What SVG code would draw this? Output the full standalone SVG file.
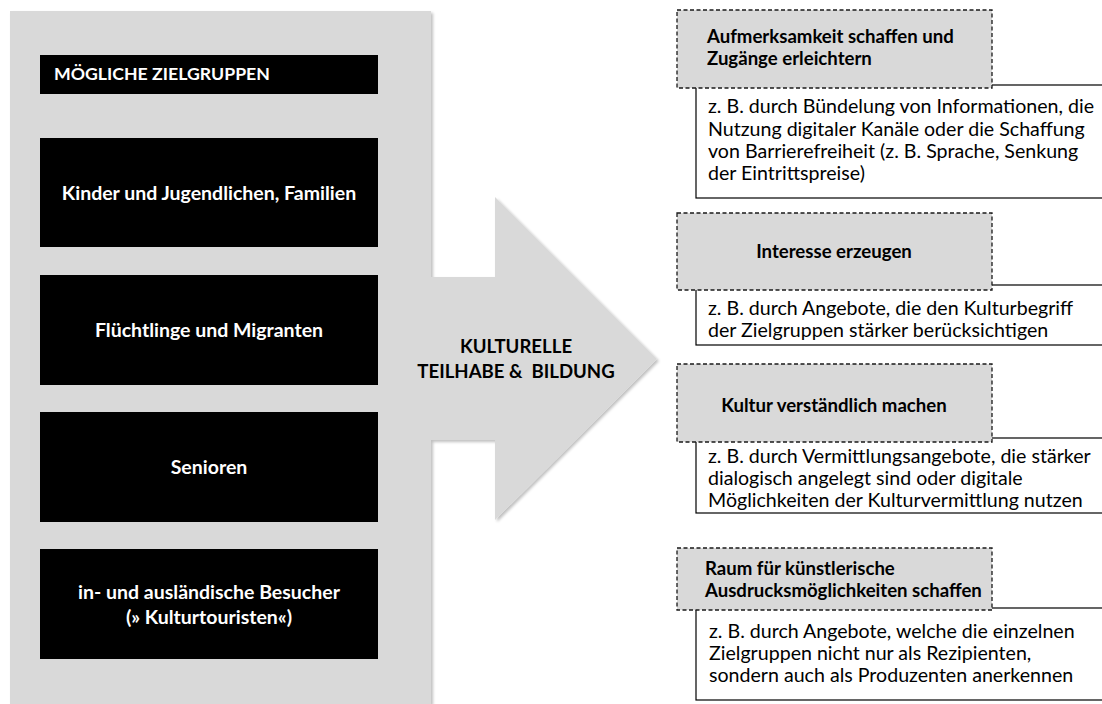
<svg xmlns="http://www.w3.org/2000/svg" width="1102" height="704" viewBox="0 0 1102 704">
<defs>
<style>
.bg{fill:#d9d9d9}
.blk{fill:#000}
.wt{fill:#fff;font-family:Lato,"Liberation Sans",sans-serif;font-weight:bold;font-size:19.5px}
.cap{font-size:17.7px}
.hd{fill:#d9d9d9;stroke:#1a1a1a;stroke-width:1.3;stroke-dasharray:4 2.5}
.bx{fill:#fff;stroke:#000;stroke-width:1.2}
.ht{fill:#000;font-family:Lato,"Liberation Sans",sans-serif;font-weight:bold;font-size:18.6px}
.bt{fill:#000;font-family:Lato,"Liberation Sans",sans-serif;font-size:19.6px}
</style>
<filter id="sh" x="-5%" y="-5%" width="110%" height="110%">
<feGaussianBlur in="SourceAlpha" stdDeviation="1.5"/>
<feOffset dx="1.5" dy="1.5"/>
<feComponentTransfer><feFuncA type="linear" slope="0.25"/></feComponentTransfer>
<feMerge><feMergeNode/><feMergeNode in="SourceGraphic"/></feMerge>
</filter>
</defs>
<g id="panel">
<path class="bg" filter="url(#sh)" d="M10 11 H431 V277 H495 V197 L657 359 L495 520 V440 H431 V704 H10 Z"/>
<text class="ht cap" text-anchor="middle" x="516" y="353">KULTURELLE</text>
<text class="ht cap" text-anchor="middle" x="516" y="378" xml:space="preserve">TEILHABE &amp;  BILDUNG</text>
</g>
<g id="zielgruppen">
<rect class="blk" x="40" y="55" width="338" height="39"/>
<text class="wt cap" x="54" y="80">MÖGLICHE ZIELGRUPPEN</text>
</g>
<g id="kinder">
<rect class="blk" x="40" y="138" width="338" height="109"/>
<text class="wt" text-anchor="middle" x="209" y="200">Kinder und Jugendlichen, Familien</text>
</g>
<g id="fluechtlinge">
<rect class="blk" x="40" y="275" width="338" height="110"/>
<text class="wt" text-anchor="middle" x="209" y="337">Flüchtlinge und Migranten</text>
</g>
<g id="senioren">
<rect class="blk" x="40" y="412" width="338" height="110"/>
<text class="wt" text-anchor="middle" x="209" y="474">Senioren</text>
</g>
<g id="besucher">
<rect class="blk" x="40" y="549" width="338" height="110"/>
<text class="wt" text-anchor="middle" x="209" y="599">in- und ausländische Besucher</text>
<text class="wt" text-anchor="middle" x="209" y="624">(» Kulturtouristen«)</text>
</g>
<g id="connectors"></g>
<g id="ziel1">
<rect class="bx" x="696" y="85" width="420" height="113"/>
<rect class="hd" x="677" y="10" width="315" height="78"/>
<text class="ht" x="707" y="43">Aufmerksamkeit schaffen und</text>
<text class="ht" x="707" y="65">Zugänge erleichtern</text>
<text class="bt" x="708" y="113">z. B. durch Bündelung von Informationen, die</text>
<text class="bt" x="708" y="136">Nutzung digitaler Kanäle oder die Schaffung</text>
<text class="bt" x="708" y="158">von Barrierefreiheit (z. B. Sprache, Senkung</text>
<text class="bt" x="708" y="180">der Eintrittspreise)</text>
</g>
<g id="ziel2">
<rect class="bx" x="696" y="285" width="420" height="60"/>
<rect class="hd" x="677" y="213" width="315" height="77"/>
<text class="ht" text-anchor="middle" x="834" y="258">Interesse erzeugen</text>
<text class="bt" x="708" y="315">z. B. durch Angebote, die den Kulturbegriff</text>
<text class="bt" x="708" y="337">der Zielgruppen stärker berücksichtigen</text>
</g>
<g id="ziel3">
<rect class="bx" x="696" y="438" width="420" height="75"/>
<rect class="hd" x="677" y="364" width="315" height="78"/>
<text class="ht" text-anchor="middle" x="834" y="412">Kultur verständlich machen</text>
<text class="bt" x="708" y="463">z. B. durch Vermittlungsangebote, die stärker</text>
<text class="bt" x="708" y="485">dialogisch angelegt sind oder digitale</text>
<text class="bt" x="708" y="507">Möglichkeiten der Kulturvermittlung nutzen</text>
</g>
<g id="ziel4">
<rect class="bx" x="696" y="608" width="420" height="92"/>
<rect class="hd" x="677" y="548" width="315" height="62"/>
<text class="ht" x="705" y="575">Raum für künstlerische</text>
<text class="ht" x="705" y="597">Ausdrucksmöglichkeiten schaffen</text>
<text class="bt" x="709" y="638">z. B. durch Angebote, welche die einzelnen</text>
<text class="bt" x="709" y="660">Zielgruppen nicht nur als Rezipienten,</text>
<text class="bt" x="709" y="682">sondern auch als Produzenten anerkennen</text>
</g>
</svg>
